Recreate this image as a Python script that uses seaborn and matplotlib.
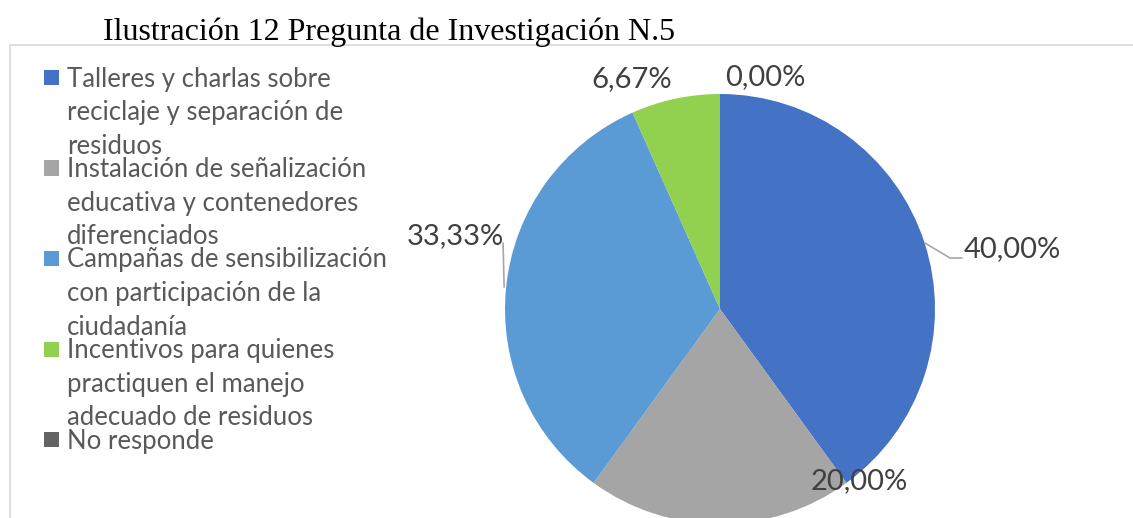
import textwrap
import numpy as np
import seaborn as sns
import matplotlib
matplotlib.use("Agg")
import matplotlib.pyplot as plt
from matplotlib.patches import Rectangle

# data
categories = [
    "Talleres y charlas sobre reciclaje y separación de residuos",
    "Instalación de señalización educativa y contenedores diferenciados",
    "Campañas de sensibilización con participación de la ciudadanía",
    "Incentivos para quienes practiquen el manejo adecuado de residuos",
    "No responde",
]
values = [40.00, 20.00, 33.33, 6.67, 0.00]
colors = sns.color_palette(["#4472C4", "#A5A5A5", "#5B9BD5", "#92D050", "#636363"])
title = "Ilustración 12 Pregunta de Investigación N.5"

# label layout (pie radius units), picked by eye
label_pos = [(1.36, 0.28), (0.65, -0.80), (-1.23, 0.34), (-0.41, 1.07), (0.21, 1.08)]

sns.set_style("white")
plt.rcParams["font.family"] = ["Lato", "DejaVu Sans"]

W, H = 1133, 518
fig = plt.figure(figsize=(W / 100, H / 100), dpi=100)

# light chart border
fig.add_artist(Rectangle((10 / W, -0.1), 1.2, 1 - 45 / H + 0.1, transform=fig.transFigure,
                         facecolor="none", edgecolor="#D9D9D9", linewidth=1.2))

fig.text(103 / W, 1 - 40 / H, title, family="Liberation Serif", fontsize=23,
         color="black", va="baseline")

# pie centred at (720, 309) px with radius 215 px
cx, cy, r = 720, 309, 215
ax = fig.add_axes([(cx - r) / W, (H - cy - r) / H, 2 * r / W, 2 * r / H])
ax.pie(values, colors=colors, startangle=90, counterclock=False,
       wedgeprops=dict(linewidth=0))
ax.set_xlim(-1, 1)
ax.set_ylim(-1, 1)
ax.set_axis_off()

for v, (lx, ly) in zip(values, label_pos):
    ax.text(lx, ly, f"{v:.2f}%".replace(".", ","), ha="center", va="center",
            fontsize=21, color="#404040", clip_on=False)

# leader lines
ax.plot([0.953, 1.07, 1.126], [0.307, 0.237, 0.237], color="#A6A6A6", lw=1.2, clip_on=False)
ax.plot([-1.009, -1.004], [0.307, 0.102], color="#A6A6A6", lw=1.2, clip_on=False)

# legend, drawn entry by entry like the office chart
for i, (cat, col) in enumerate(zip(categories, colors)):
    y = 77.5 + 90.5 * i
    fig.add_artist(Rectangle((44 / W, 1 - (y + 7.5) / H), 15 / W, 15 / H,
                             transform=fig.transFigure, facecolor=col, edgecolor="none"))
    fig.text(67 / W, 1 - (y - 11) / H, textwrap.fill(cat, 27), fontsize=18.5,
             color="#595959", va="top", linespacing=1.43)

fig.savefig("out.png", dpi=100)
